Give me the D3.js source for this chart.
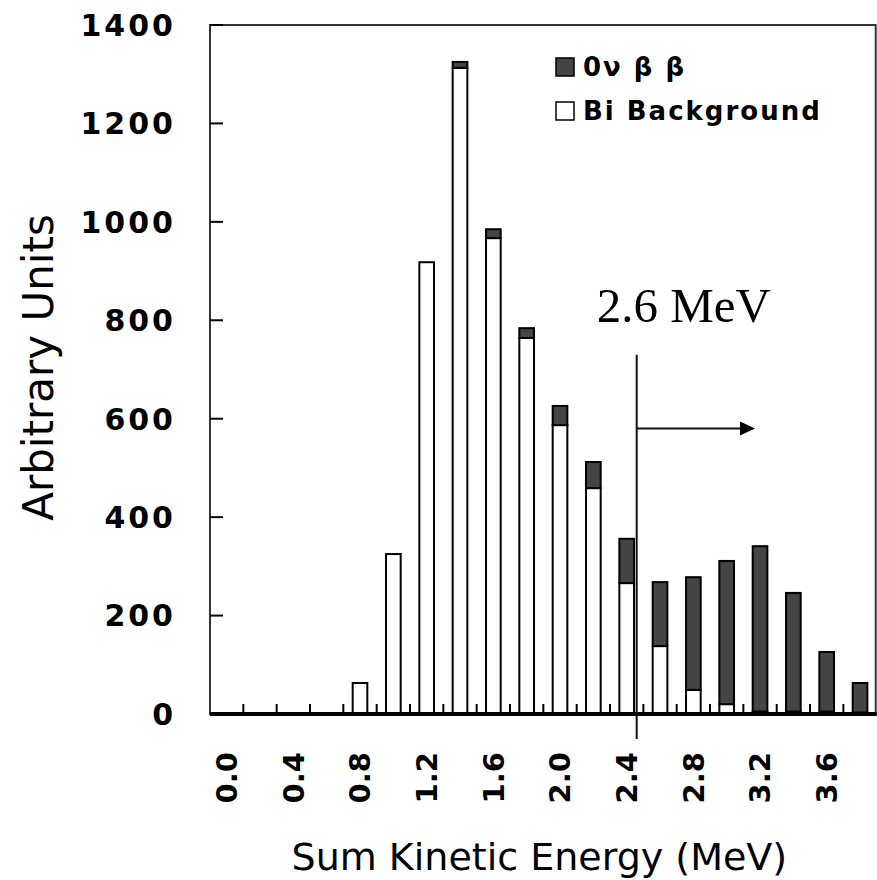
<!DOCTYPE html>
<html>

<head>
    <meta charset="utf-8">
    <title>Sum Kinetic Energy</title>
</head>
<style>
body {
    margin: 0;
    background-color: #fff;
}

text {
    font-family: "DejaVu Sans", sans-serif;
    fill: #000;
}
</style>

<body>
    <div id="graphic"></div>
    <script src="https://d3js.org/d3.v7.min.js"></script>
    <script>

    // bins of summed kinetic energy (MeV)
    var categories = ["0.0", "0.2", "0.4", "0.6", "0.8", "1.0", "1.2", "1.4", "1.6", "1.8",
                      "2.0", "2.2", "2.4", "2.6", "2.8", "3.0", "3.2", "3.4", "3.6", "3.8"];
    var biBackground = [0, 0, 0, 0, 63, 325, 918, 1313, 967, 764,
                        587, 459, 266, 138, 49, 20, 5, 5, 5, 3];
    var zeroNuBB = [0, 0, 0, 0, 0, 0, 0, 12, 18, 20,
                    39, 53, 90, 130, 229, 291, 336, 241, 121, 60];
    var yTicks = [0, 200, 400, 600, 800, 1000, 1200, 1400];
    var legendLabels = ["0\u03bd \u03b2 \u03b2", "Bi Background"];
    var seriesKeys = ["bi", "bb"];

    var w = 877;
    var h = 880;
    // plot box (note: "top" is taken by window.top)
    var plotL = 210, plotR = 876.7, plotT = 25, plotB = 714;

    var table = categories.map(function(c, i) {
        return { cat: c, bi: biBackground[i], bb: zeroNuBB[i] };
    });

    var svg = d3.select("#graphic")
        .append("svg")
        .attr("width", w)
        .attr("height", h);

    var x = d3.scaleBand()
        .domain(categories)
        .range([plotL, plotR])
        .paddingInner(0.56)
        .paddingOuter(0.28);

    // continuous energy scale for the annotation
    var xe = d3.scaleLinear().domain([0, 4]).range([plotL, plotR]);

    var y = d3.scaleLinear()
        .domain([0, 1400])
        .range([plotB, plotT]);

    var fills = { bi: "#ffffff", bb: "#454545" };

    // frame
    svg.append("rect")
        .attr("x", plotL)
        .attr("y", plotT)
        .attr("width", plotR - plotL - 1)
        .attr("height", plotB - plotT)
        .attr("fill", "none")
        .attr("stroke", "#333")
        .attr("stroke-width", 2);

    // bars
    var stacked = d3.stack().keys(seriesKeys)(table);

    svg.append("g")
        .selectAll("g")
        .data(stacked)
        .enter().append("g")
        .attr("fill", function(d) { return fills[d.key]; })
        .selectAll("rect")
        .data(function(d) { return d.filter(function(p) { return p[1] - p[0] > 0; }); })
        .enter().append("rect")
        .attr("x", function(d) { return x(d.data.cat); })
        .attr("width", x.bandwidth())
        .attr("y", function(d) { return y(d[1]); })
        .attr("height", function(d) { return y(d[0]) - y(d[1]); })
        .attr("stroke", "#000")
        .attr("stroke-width", 2);

    // y axis
    var yAxis = svg.append("g").attr("transform", "translate(" + plotL + ",0)");
    yAxis.selectAll("line")
        .data(yTicks)
        .enter().append("line")
        .attr("x1", 0)
        .attr("x2", 13)
        .attr("y1", function(d) { return y(d); })
        .attr("y2", function(d) { return y(d); })
        .attr("stroke", "#000")
        .attr("stroke-width", 2);
    yAxis.selectAll("text")
        .data(yTicks)
        .enter().append("text")
        .attr("x", -34)
        .attr("y", function(d) { return y(d); })
        .attr("dy", "0.36em")
        .attr("text-anchor", "end")
        .style("font-size", "30px")
        .style("font-weight", "bold")
        .style("letter-spacing", "3px")
        .text(function(d) { return d; });

    // x axis: ticks between bins, labels every other bin
    var boundaries = categories.slice(1).map(function(c) {
        return x(c) - x.step() * x.paddingInner() / 2;
    });
    svg.append("g")
        .selectAll("line")
        .data(boundaries)
        .enter().append("line")
        .attr("x1", function(d) { return d; })
        .attr("x2", function(d) { return d; })
        .attr("y1", plotB)
        .attr("y2", plotB - 10)
        .attr("stroke", "#000")
        .attr("stroke-width", 2);

    svg.append("line")
        .attr("x1", plotL)
        .attr("x2", plotR)
        .attr("y1", plotB)
        .attr("y2", plotB)
        .attr("stroke", "#000")
        .attr("stroke-width", 4);

    svg.append("g")
        .selectAll("text")
        .data(categories.filter(function(c, i) { return i % 2 === 0; }))
        .enter().append("text")
        .attr("transform", function(d) {
            return "translate(" + (x(d) + x.bandwidth() / 2) + "," + (plotB + 38) + ") rotate(-90)";
        })
        .attr("dy", "0.36em")
        .attr("text-anchor", "end")
        .style("font-size", "29px")
        .style("font-weight", "bold")
        .text(function(d) { return d; });

    // axis titles
    svg.append("text")
        .attr("x", (plotL + plotR) / 2 - 4)
        .attr("y", 870)
        .attr("text-anchor", "middle")
        .style("font-size", "38px")
        .text("Sum Kinetic Energy (MeV)");

    svg.append("text")
        .attr("transform", "translate(53," + ((plotT + plotB) / 2 - 2) + ") rotate(-90)")
        .attr("text-anchor", "middle")
        .style("font-size", "42px")
        .text("Arbitrary Units");

    // 2.6 MeV marker
    var markerE = 2.56;
    var mx = xe(markerE);
    svg.append("line")
        .attr("x1", mx).attr("x2", mx)
        .attr("y1", y(730)).attr("y2", plotB + 25)
        .attr("stroke", "#111")
        .attr("stroke-width", 2);

    svg.append("line")
        .attr("x1", mx).attr("x2", xe(3.2))
        .attr("y1", y(580)).attr("y2", y(580))
        .attr("stroke", "#111")
        .attr("stroke-width", 2);

    svg.append("path")
        .attr("d", "M" + xe(3.18) + "," + (y(580) - 7) + "L" + xe(3.27) + "," + y(580) + "L" + xe(3.18) + "," + (y(580) + 7) + "Z")
        .attr("fill", "#000");

    svg.append("text")
        .attr("x", mx - 40)
        .attr("y", y(797))
        .style("font-family", "'Liberation Serif', serif")
        .style("font-size", "49px")
        .text("2.6 MeV");

    // legend
    var legend = svg.append("g")
        .selectAll("g")
        .data(legendLabels)
        .enter().append("g")
        .attr("transform", function(d, i) { return "translate(556," + (58 + i * 44) + ")"; });

    legend.append("rect")
        .attr("width", 18)
        .attr("height", 18)
        .attr("fill", function(d, i) { return i === 0 ? fills.bb : fills.bi; })
        .attr("stroke", "#000")
        .attr("stroke-width", 1.5);

    legend.append("text")
        .attr("x", 27)
        .attr("y", 9)
        .attr("dy", "0.36em")
        .style("font-size", "26px")
        .style("font-weight", "bold")
        .style("letter-spacing", "2px")
        .text(function(d) { return d; });

    </script>
</body>
</html>
